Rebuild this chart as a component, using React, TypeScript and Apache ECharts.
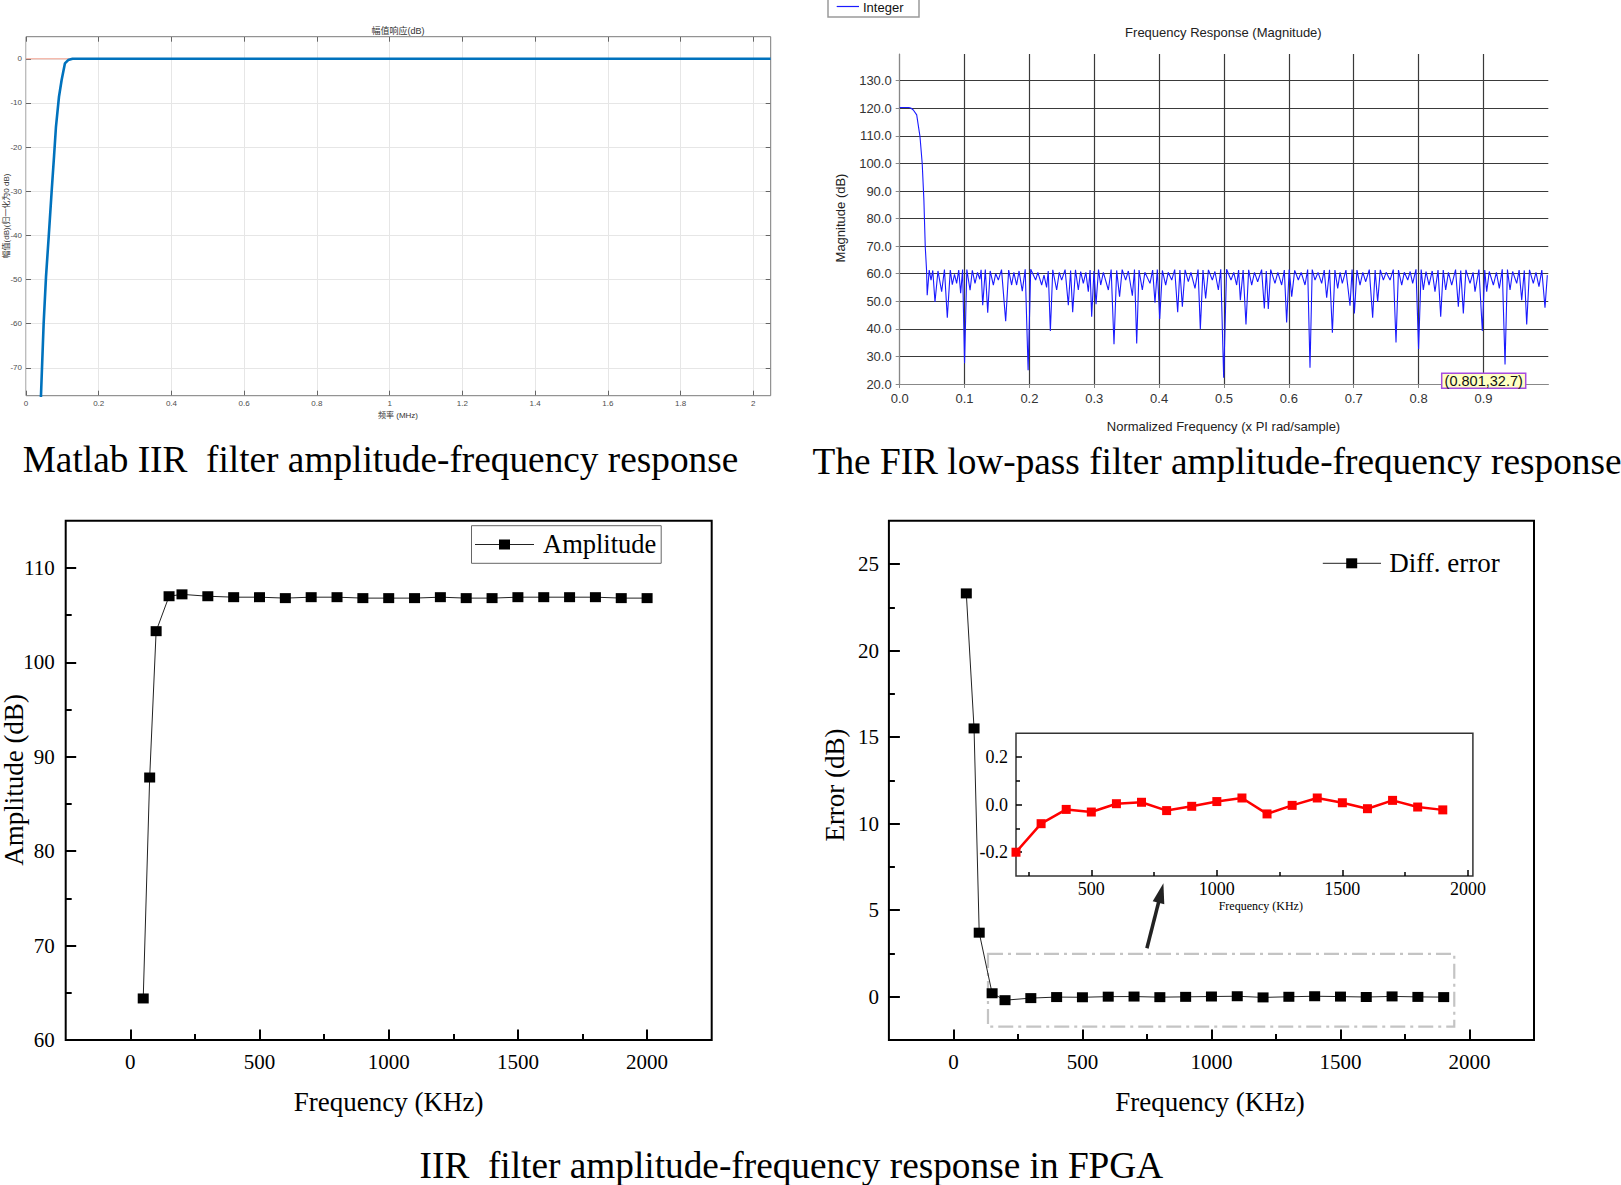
import React, { useEffect, useRef } from 'react';
import * as echarts from 'echarts';

// ---------- Matlab IIR response (top-left) ----------
const iirFreqMHz = [0.0395, 0.0485, 0.055, 0.063, 0.0705, 0.077, 0.0824, 0.0907, 0.098, 0.107, 0.116, 0.128, 2.048];
const iirMagDb = [-80, -60, -49.4, -39.6, -30.1, -22.2, -15.4, -8.6, -4.8, -1.05, -0.3, 0, 0];
const iirRefFreq = [0, 2.048];
const iirRefDb = [0, 0];
const iirXTicks = [0, 0.2, 0.4, 0.6, 0.8, 1, 1.2, 1.4, 1.6, 1.8, 2];
const iirYTicks = [-70, -60, -50, -40, -30, -20, -10, 0];

// ---------- FIR low-pass response (top-right) ----------
const firFreq = [
  0, 0.008, 0.014, 0.017, 0.021, 0.0262, 0.0313, 0.0347, 0.0373, 0.0394, 0.0414, 0.0424,
  0.0455, 0.0483, 0.051, 0.0544, 0.059, 0.0647, 0.069, 0.0734, 0.078, 0.0811, 0.0845, 0.0878,
  0.091, 0.094, 0.097, 0.1, 0.1035, 0.1085, 0.112, 0.1161, 0.12, 0.1235, 0.1255, 0.128,
  0.132, 0.1357, 0.1395, 0.1444, 0.148, 0.1521, 0.157, 0.1634, 0.168, 0.1726, 0.176, 0.1803,
  0.184, 0.189, 0.1935, 0.198, 0.202, 0.2096, 0.213, 0.2189, 0.2225, 0.2265, 0.229, 0.2323,
  0.236, 0.242, 0.246, 0.2497, 0.255, 0.26, 0.2635, 0.2667, 0.271, 0.2754, 0.279, 0.2831,
  0.287, 0.2908, 0.2935, 0.296, 0.2995, 0.3027, 0.3065, 0.3099, 0.314, 0.3217, 0.326, 0.3304,
  0.3345, 0.339, 0.343, 0.3484, 0.3525, 0.3587, 0.362, 0.3654, 0.369, 0.3741, 0.378, 0.3859,
  0.39, 0.3936, 0.3972, 0.4009, 0.405, 0.4101, 0.414, 0.4194, 0.424, 0.4286, 0.432, 0.4358,
  0.44, 0.445, 0.449, 0.4553, 0.46, 0.4635, 0.4676, 0.4717, 0.476, 0.482, 0.486, 0.4913,
  0.495, 0.4995, 0.504, 0.5108, 0.515, 0.5195, 0.5225, 0.5252, 0.5295, 0.5339, 0.538, 0.5427,
  0.547, 0.5519, 0.558, 0.5622, 0.5652, 0.5683, 0.572, 0.5786, 0.583, 0.5889, 0.593, 0.5966,
  0.6005, 0.6044, 0.609, 0.6146, 0.619, 0.6249, 0.629, 0.6326, 0.636, 0.6403, 0.645, 0.6506,
  0.6545, 0.6583, 0.6627, 0.6671, 0.671, 0.6753, 0.679, 0.6824, 0.688, 0.6943, 0.6975, 0.701,
  0.705, 0.7097, 0.714, 0.7185, 0.724, 0.7292, 0.733, 0.7369, 0.741, 0.7457, 0.75, 0.756,
  0.761, 0.7652, 0.769, 0.774, 0.778, 0.7833, 0.787, 0.7909, 0.796, 0.8, 0.804, 0.8073,
  0.8115, 0.8161, 0.821, 0.8253, 0.83, 0.8341, 0.838, 0.8418, 0.846, 0.8511, 0.857, 0.8613,
  0.865, 0.869, 0.873, 0.8793, 0.884, 0.887, 0.893, 0.8983, 0.902, 0.905, 0.909, 0.9153,
  0.92, 0.9245, 0.929, 0.9333, 0.937, 0.941, 0.945, 0.9513, 0.955, 0.959, 0.963, 0.9667,
  0.971, 0.9769, 0.981, 0.9856, 0.99, 0.9949, 0.9985,
];
const firMagDb = [
  120.3, 120.3, 120.3, 120.1, 119.4, 117.6, 109.7, 100, 86.7, 69.8, 61.3, 52.2,
  61.3, 57.7, 61.2, 49.8, 61.0, 53.5, 61.5, 44.0, 61.3, 56.0, 59.8, 56.5,
  61.3, 52.9, 61.5, 27.5, 61.5, 54.0, 61.2, 56.5, 60.5, 58.0, 61.4, 48.6,
  61.5, 45.9, 61.0, 55.9, 60.0, 57.7, 61.5, 42.8, 61.3, 55.9, 60.5, 55.9,
  61.0, 53.7, 61.6, 25.0, 61.6, 57.7, 60.5, 55.9, 59.5, 55.0, 61.0, 39.2,
  61.4, 54.1, 60.5, 57.7, 61.5, 48.6, 61.2, 46.0, 61.4, 54.1, 60.8, 56.5,
  60.5, 53.5, 61.3, 44.4, 61.0, 48.9, 61.5, 55.9, 60.5, 54.1, 61.5, 34.4,
  61.2, 51.7, 61.5, 57.7, 61.0, 52.0, 61.5, 34.7, 61.3, 54.1, 60.5, 56.5,
  61.3, 49.5, 61.5, 43.6, 61.2, 55.9, 60.5, 57.7, 61.5, 46.0, 61.3, 48.0,
  61.4, 57.1, 60.5, 54.7, 61.5, 39.9, 61.3, 51.0, 61.4, 57.7, 60.8, 54.1,
  61.6, 22.3, 61.6, 57.7, 60.5, 55.9, 61.3, 50.4, 61.3, 41.6, 61.4, 55.9,
  60.5, 57.1, 61.5, 47.4, 61.0, 47.2, 61.5, 56.5, 60.5, 55.9, 61.3, 42.3,
  61.5, 51.7, 61.2, 57.7, 60.5, 55.9, 61.5, 25.9, 61.5, 57.7, 60.5, 56.5,
  61.3, 51.3, 61.4, 38.6, 61.3, 54.7, 60.5, 56.5, 61.3, 48.4, 61.5, 45.6,
  61.3, 55.9, 60.5, 57.1, 61.5, 44.0, 61.3, 49.8, 61.4, 57.7, 60.5, 57.7,
  61.5, 35.1, 61.3, 55.9, 60.5, 57.7, 60.8, 56.5, 61.6, 32.7, 61.5, 54.1,
  60.8, 55.9, 61.0, 53.5, 61.3, 44.4, 61.3, 54.1, 60.5, 55.9, 61.5, 48.0,
  61.2, 45.6, 61.4, 56.5, 60.5, 53.5, 61.5, 39.2, 61.3, 53.5, 60.8, 55.9,
  60.5, 54.7, 61.6, 27.1, 61.5, 54.1, 60.8, 56.5, 61.3, 50.4, 61.2, 41.6,
  61.4, 56.5, 60.5, 55.3, 61.3, 47.7, 59.5,
];
const firXTicks = [0, 0.1, 0.2, 0.3, 0.4, 0.5, 0.6, 0.7, 0.8, 0.9];
const firYTicks = [20, 30, 40, 50, 60, 70, 80, 90, 100, 110, 120, 130];

// ---------- FPGA amplitude (bottom-left) ----------
const ampFreqKHz = [50, 75, 100, 150, 200, 300, 400, 500, 600, 700, 800, 900, 1000, 1100, 1200, 1300, 1400, 1500, 1600, 1700, 1800, 1900, 2000];
const ampDb = [64.4, 87.8, 103.3, 107.0, 107.2, 107.0, 106.9, 106.9, 106.8, 106.9, 106.9, 106.8, 106.8, 106.8, 106.9, 106.8, 106.8, 106.9, 106.9, 106.9, 106.9, 106.8, 106.8];
const ampMajorTicks = [60, 70, 80, 90, 100, 110];
const ampMinorTicks = [65, 75, 85, 95, 105];

// ---------- Diff. error (bottom-right) ----------
const errFreqKHz = [50, 80, 100, 150, 200, 300, 400, 500, 600, 700, 800, 900, 1000, 1100, 1200, 1300, 1400, 1500, 1600, 1700, 1800, 1900];
const errDb = [23.3, 15.5, 3.7, 0.2, -0.2, -0.08, -0.02, -0.031, 0.004, 0.01, -0.025, -0.007, 0.013, 0.028, -0.039, -0.003, 0.028, 0.008, -0.017, 0.018, -0.01, -0.022];
const errMajorTicks = [0, 5, 10, 15, 20, 25];
const errMinorTicks = [2.5, 7.5, 12.5, 17.5, 22.5];
const zoomBoxFreq = [134, 1941];
const zoomBoxErr = [2.47, -1.73];

// ---------- inset ----------
const insetFreqKHz = [200, 300, 400, 500, 600, 700, 800, 900, 1000, 1100, 1200, 1300, 1400, 1500, 1600, 1700, 1800, 1900];
const insetErrDb = [-0.2, -0.08, -0.02, -0.031, 0.004, 0.01, -0.025, -0.007, 0.013, 0.028, -0.039, -0.003, 0.028, 0.008, -0.017, 0.018, -0.01, -0.022];
const insetXMajor = [500, 1000, 1500, 2000];
const insetXMinor = [250, 750, 1250, 1750];
const insetYMajor = [-0.2, 0, 0.2];
const insetYMinor = [-0.1, 0.1];

const freqMajorTicks = [0, 500, 1000, 1500, 2000];
const freqMinorTicks = [250, 750, 1250, 1750];

const SERIF = '"Liberation Serif", "Times New Roman", serif';
const SANS = '"Liberation Sans", Arial, sans-serif';
const CJK = '"Liberation Sans", "Noto Sans CJK SC", sans-serif';

const zip = (a: number[], b: number[]) => a.map((v, i) => [v, b[i]]);

function txt(text: string, x: number, y: number, size: number, family: string, opt: any = {}) {
  const align = opt.align || 'center';
  return {
    type: 'text',
    x,
    y,
    rotation: opt.rotation || 0,
    silent: true,
    z: 50,
    style: {
      text,
      fontSize: size,
      fontFamily: family,
      fontWeight: opt.weight || 'normal',
      fill: opt.fill || '#000',
      align,
      textAlign: align,
      verticalAlign: 'middle',
      textVerticalAlign: 'middle',
    },
  };
}

function tickAxis(gridIndex: number, min: number, max: number, values: number[], opt: any = {}) {
  const line = opt.axisLine || { show: false };
  return {
    type: 'value',
    gridIndex,
    min,
    max,
    position: opt.position,
    offset: 0,
    axisLine: { ...line, onZero: false },
    axisTick: {
      show: true,
      inside: opt.inside !== false,
      length: opt.tickLen || 10,
      customValues: values,
      lineStyle: { color: opt.tickColor || '#000', width: opt.tickWidth || 2 },
    },
    axisLabel: opt.label
      ? {
          show: true,
          customValues: values,
          formatter: opt.formatter || ((v: number) => String(v)),
          fontSize: opt.fontSize,
          fontFamily: opt.fontFamily || SERIF,
          color: opt.labelColor || '#000',
          margin: opt.margin,
        }
      : { show: false },
    splitLine: opt.split ? { show: true, lineStyle: opt.split } : { show: false },
  };
}

export default function App() {
  const ref = useRef<HTMLDivElement>(null);

  useEffect(() => {
    document.body.style.margin = '0';
    if (!ref.current) return;
    const chart = echarts.init(ref.current, undefined, { renderer: 'svg' });

    const iirLabel = { label: true, fontSize: 8, fontFamily: SANS, labelColor: '#4d4d4d', margin: 4, tickLen: 5, tickWidth: 1, tickColor: '#666' };
    const firLabel = { label: true, fontSize: 13, fontFamily: SANS, labelColor: '#333', margin: 8, inside: false, tickLen: 4, tickWidth: 1, tickColor: '#888', axisLine: { show: true, lineStyle: { color: '#888', width: 1 } }, split: { color: '#3a3a3a', width: 1.2 } };

    const option: any = {
      animation: false,
      backgroundColor: '#fff',
      textStyle: { fontFamily: SERIF },
      grid: [
        { left: 26, top: 36.7, width: 744.7, height: 359, show: true, borderColor: '#7a7a7a', borderWidth: 1, backgroundColor: '#fff', containLabel: false, outerBoundsMode: 'none' },
        { left: 899.7, top: 54, width: 648.6, height: 330, show: false, containLabel: false, outerBoundsMode: 'none' },
        { left: 65.7, top: 520.7, width: 646, height: 519.3, show: true, borderColor: '#000', borderWidth: 2, containLabel: false, outerBoundsMode: 'none' },
        { left: 888.9, top: 520.7, width: 645.1, height: 519.3, show: true, borderColor: '#000', borderWidth: 2, containLabel: false, outerBoundsMode: 'none' },
        { left: 1016, top: 733.3, width: 456.9, height: 142.7, show: true, borderColor: '#333', borderWidth: 1.5, backgroundColor: '#fff', containLabel: false, outerBoundsMode: 'none' },
      ],
      xAxis: [
        tickAxis(0, 0, 2.048, iirXTicks, { ...iirLabel, position: 'bottom', split: { color: '#e6e6e6', width: 1 } }),
        tickAxis(0, 0, 2.048, iirXTicks, { position: 'top', tickLen: 5, tickWidth: 1, tickColor: '#666' }),
        tickAxis(1, 0, 1, firXTicks, { ...firLabel, position: 'bottom', formatter: (v: number) => v.toFixed(1) }),
        tickAxis(2, -250, 2250, freqMajorTicks, { position: 'bottom', label: true, fontSize: 21, margin: 11, tickLen: 10.5 }),
        tickAxis(2, -250, 2250, freqMinorTicks, { position: 'bottom', tickLen: 6 }),
        tickAxis(3, -250, 2250, freqMajorTicks, { position: 'bottom', label: true, fontSize: 21, margin: 11, tickLen: 10.5 }),
        tickAxis(3, -250, 2250, freqMinorTicks, { position: 'bottom', tickLen: 6 }),
        tickAxis(4, 200, 2020, insetXMajor, { position: 'bottom', label: true, fontSize: 18, margin: 4, tickLen: 6, tickWidth: 1.5 }),
        tickAxis(4, 200, 2020, insetXMinor, { position: 'bottom', tickLen: 4, tickWidth: 1.5 }),
      ],
      yAxis: [
        tickAxis(0, -76.3, 5, iirYTicks, { ...iirLabel, position: 'left', split: { color: '#e6e6e6', width: 1 } }),
        tickAxis(0, -76.3, 5, iirYTicks, { position: 'right', tickLen: 5, tickWidth: 1, tickColor: '#666' }),
        tickAxis(1, 20, 139.7, firYTicks, { ...firLabel, position: 'left', formatter: (v: number) => v.toFixed(1) }),
        tickAxis(2, 60, 115, ampMajorTicks, { position: 'left', label: true, fontSize: 21, margin: 11, tickLen: 10.5 }),
        tickAxis(2, 60, 115, ampMinorTicks, { position: 'left', tickLen: 6 }),
        tickAxis(3, -2.5, 27.5, errMajorTicks, { position: 'left', label: true, fontSize: 21, margin: 10, tickLen: 11 }),
        tickAxis(3, -2.5, 27.5, errMinorTicks, { position: 'left', tickLen: 6 }),
        tickAxis(4, -0.3, 0.3, insetYMajor, { position: 'left', label: true, fontSize: 18, margin: 8, tickLen: 6, tickWidth: 1.5, formatter: (v: number) => v.toFixed(1) }),
        tickAxis(4, -0.3, 0.3, insetYMinor, { position: 'left', tickLen: 4, tickWidth: 1.5 }),
      ],
      series: [
        {
          name: 'ref0',
          type: 'line',
          xAxisIndex: 0,
          yAxisIndex: 0,
          data: zip(iirRefFreq, iirRefDb),
          symbol: 'none',
          lineStyle: { color: '#f2a28f', width: 1 },
          silent: true,
          z: 1,
        },
        {
          name: 'IIR',
          type: 'line',
          xAxisIndex: 0,
          yAxisIndex: 0,
          data: zip(iirFreqMHz, iirMagDb),
          symbol: 'none',
          lineStyle: { color: '#0072BD', width: 2.6 },
          silent: true,
          z: 3,
        },
        {
          name: 'Integer',
          type: 'line',
          xAxisIndex: 2,
          yAxisIndex: 2,
          data: zip(firFreq, firMagDb),
          symbol: 'none',
          lineStyle: { color: '#1a1aff', width: 1.1 },
          silent: true,
        },
        {
          name: 'Amplitude',
          type: 'line',
          xAxisIndex: 3,
          yAxisIndex: 3,
          data: zip(ampFreqKHz, ampDb),
          symbol: 'rect',
          symbolSize: [11, 10],
          itemStyle: { color: '#000' },
          lineStyle: { color: '#222', width: 1 },
          silent: true,
          clip: false,
        },
        {
          name: 'Diff. error',
          type: 'line',
          xAxisIndex: 5,
          yAxisIndex: 5,
          data: zip(errFreqKHz, errDb),
          symbol: 'rect',
          symbolSize: [11, 10],
          itemStyle: { color: '#000' },
          lineStyle: { color: '#222', width: 1 },
          silent: true,
          clip: false,
          markArea: {
            silent: true,
            label: { show: false },
            itemStyle: {
              color: 'rgba(0,0,0,0)',
              borderColor: '#c4c4c4',
              borderWidth: 2.2,
              borderType: [15, 5, 3, 5],
            },
            data: [[{ coord: [zoomBoxFreq[0], zoomBoxErr[0]] }, { coord: [zoomBoxFreq[1], zoomBoxErr[1]] }]],
          },
        },
        {
          name: 'inset',
          type: 'line',
          xAxisIndex: 7,
          yAxisIndex: 7,
          data: zip(insetFreqKHz, insetErrDb),
          symbol: 'rect',
          symbolSize: [9, 9],
          itemStyle: { color: '#ff0000' },
          lineStyle: { color: '#ff0000', width: 2.5 },
          silent: true,
          z: 5,
        },
      ],
      graphic: {
        elements: [
          txt('幅值响应(dB)', 398, 31, 9, CJK, { fill: '#333' }),
          txt('频率 (MHz)', 398, 415, 8, CJK, { fill: '#333' }),
          txt('幅值(dB)(归一化为0 dB)', 6, 216, 8, CJK, { fill: '#333', rotation: Math.PI / 2 }),
          txt('Matlab IIR  filter amplitude-frequency response', 22.7, 459, 37.3, SERIF, { align: 'left' }),
          txt('Frequency Response (Magnitude)', 1223.4, 32, 13, SANS, { fill: '#222' }),
          txt('Normalized Frequency (x PI rad/sample)', 1223.5, 426, 13, SANS, { fill: '#222' }),
          txt('Magnitude (dB)', 840, 218, 13, SANS, { fill: '#222', rotation: Math.PI / 2 }),
          {
            type: 'rect',
            shape: { x: 828, y: -8, width: 91, height: 25 },
            style: { fill: '#fff', stroke: '#9a9a9a', lineWidth: 1.5 },
            silent: true,
            z: 40,
          },
          {
            type: 'line',
            shape: { x1: 836.7, y1: 6.5, x2: 859, y2: 6.5 },
            style: { stroke: '#1a1aff', lineWidth: 1.2 },
            silent: true,
            z: 41,
          },
          txt('Integer', 863, 7.5, 13, SANS, { align: 'left', fill: '#111' }),
          txt('The FIR low-pass filter amplitude-frequency response', 812.6, 461, 37.3, SERIF, { align: 'left' }),
          {
            type: 'rect',
            shape: { x: 1441.7, y: 373.3, width: 84, height: 15 },
            style: { fill: '#ffffc4', stroke: '#a64ce0', lineWidth: 1.5 },
            silent: true,
            z: 40,
          },
          txt('(0.801,32.7)', 1483.7, 381, 14.5, SANS, { fill: '#111' }),
          {
            type: 'rect',
            shape: { x: 471.5, y: 525.7, width: 189.7, height: 37.6 },
            style: { fill: '#fff', stroke: '#666', lineWidth: 1 },
            silent: true,
            z: 40,
          },
          {
            type: 'line',
            shape: { x1: 475, y1: 544.5, x2: 534, y2: 544.5 },
            style: { stroke: '#222', lineWidth: 1 },
            silent: true,
            z: 41,
          },
          {
            type: 'rect',
            shape: { x: 499, y: 539.5, width: 11, height: 10 },
            style: { fill: '#000' },
            silent: true,
            z: 42,
          },
          txt('Amplitude', 543, 543.5, 26.5, SERIF, { align: 'left' }),
          txt('Amplitude (dB)', 14, 780, 27, SERIF, { rotation: Math.PI / 2 }),
          txt('Frequency (KHz)', 388.6, 1101.7, 27, SERIF),
          {
            type: 'line',
            shape: { x1: 1322.8, y1: 563.3, x2: 1381, y2: 563.3 },
            style: { stroke: '#222', lineWidth: 1 },
            silent: true,
            z: 41,
          },
          {
            type: 'rect',
            shape: { x: 1346.2, y: 558.3, width: 11, height: 10 },
            style: { fill: '#000' },
            silent: true,
            z: 42,
          },
          txt('Diff. error', 1389.3, 562.5, 27, SERIF, { align: 'left' }),
          txt('Error (dB)', 835, 785, 27, SERIF, { rotation: Math.PI / 2 }),
          txt('Frequency (KHz)', 1210, 1101.7, 27, SERIF),
          txt('Frequency (KHz)', 1260.8, 906, 12, SERIF),
          {
            type: 'line',
            shape: { x1: 1146.9, y1: 948.3, x2: 1158.8, y2: 901.5 },
            style: { stroke: '#222', lineWidth: 3.5 },
            silent: true,
            z: 41,
          },
          {
            type: 'polygon',
            shape: { points: [[1163.4, 883.3], [1164.3, 904.2], [1152.7, 901.2]] },
            style: { fill: '#222' },
            silent: true,
            z: 42,
          },
          txt('IIR  filter amplitude-frequency response in FPGA', 791.4, 1165, 37.3, SERIF),
        ],
      },
    };

    chart.setOption(option);
    return () => {
      chart.dispose();
    };
  }, []);

  return <div ref={ref} style={{ width: 1621, height: 1185, background: '#fff' }} />;
}
